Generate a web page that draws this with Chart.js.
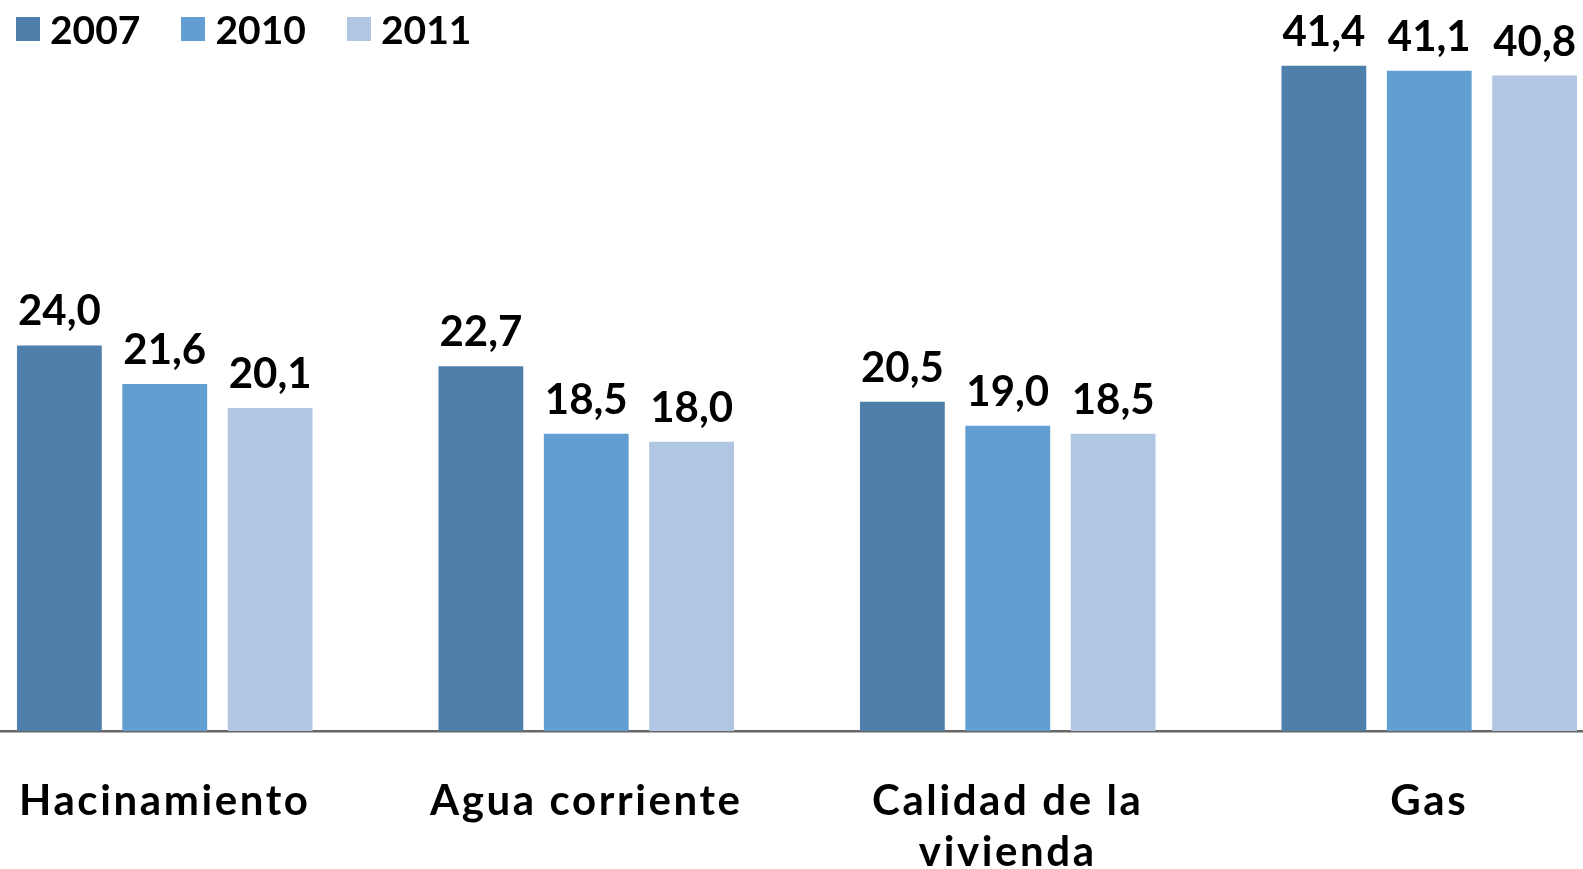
<!DOCTYPE html>
<html>
<head>
<meta charset="utf-8">
<script src="https://cdn.jsdelivr.net/npm/chart.js@4.4.1/dist/chart.umd.min.js"></script>
<style>
    html, body { margin: 0; padding: 0; background: #fff; overflow: hidden; width: 1583px; height: 869px; }
    #wrap { position: absolute; left: -46px; top: 0; width: 1686px; height: 869px; }
    #legend { position: absolute; left: 16px; top: 5px; display: flex; font-family: Lato, sans-serif; font-weight: bold; font-size: 39px; line-height: 48px; color: #000; }
    #legend .item { display: flex; align-items: center; margin-right: 41px; }
    #legend .box { width: 24px; height: 24px; margin-right: 10px; }
</style>
</head>
<body>
<div id="wrap"><canvas id="chart"></canvas></div>
<div id="legend"></div>
<script>
const categories = ['Hacinamiento', 'Agua corriente', ['Calidad de la', 'vivienda'], 'Gas'];
const years = ['2007', '2010', '2011'];
const values2007 = [24.0, 22.7, 20.5, 41.4];
const values2010 = [21.6, 18.5, 19.0, 41.1];
const values2011 = [20.1, 18.0, 18.5, 40.8];
const colors = ['#4f80ab', '#629ed2', '#b0c6e3'];

const FONT = 'Lato, sans-serif';

// espaciado de letras para las etiquetas del eje x (la fuente original es más ancha)
const tickSpacing = {
    id: 'tickSpacing',
    beforeDraw(chart) { chart.ctx.letterSpacing = '2.6px'; },
    beforeDatasetsDraw(chart) { chart.ctx.letterSpacing = '0px'; }
};

// etiquetas de valor sobre cada barra, con coma decimal
const valueLabels = {
    id: 'valueLabels',
    afterDatasetsDraw(chart) {
        const ctx = chart.ctx;
        ctx.save();
        ctx.letterSpacing = '0px';
        ctx.font = 'bold 42px ' + FONT;
        ctx.fillStyle = '#000';
        ctx.textAlign = 'center';
        ctx.textBaseline = 'alphabetic';
        chart.data.datasets.forEach((ds, i) => {
            chart.getDatasetMeta(i).data.forEach((bar, j) => {
                ctx.fillText(ds.data[j].toFixed(1).replace('.', ','), bar.x, bar.y - 20);
            });
        });
        ctx.restore();
    }
};

const legendEl = document.getElementById('legend');
years.forEach((y, i) => {
    const item = document.createElement('div');
    item.className = 'item';
    item.innerHTML = '<span class="box" style="background:' + colors[i] + '"></span>' + y;
    legendEl.appendChild(item);
});

new Chart(document.getElementById('chart').getContext('2d'), {
    type: 'bar',
    data: {
        labels: categories,
        datasets: [
            { label: years[0], data: values2007, backgroundColor: colors[0] },
            { label: years[1], data: values2010, backgroundColor: colors[1] },
            { label: years[2], data: values2011, backgroundColor: colors[2] }
        ]
    },
    options: {
        responsive: true,
        maintainAspectRatio: false,
        animation: false,
        layout: { padding: 0 },
        categoryPercentage: 0.75,
        barPercentage: 0.805,
        plugins: {
            legend: { display: false },
            tooltip: { enabled: false }
        },
        scales: {
            x: {
                grid: { display: false, drawTicks: false },
                border: { display: true, color: '#666', width: 2.5 },
                ticks: {
                    color: '#000',
                    padding: 45,
                    maxRotation: 0,
                    autoSkip: false,
                    font: { family: FONT, size: 42, weight: 'bold', lineHeight: 1.22 }
                },
                afterFit(scale) { scale.height = 138; }
            },
            y: {
                display: false,
                min: 0,
                max: 45.5
            }
        }
    },
    plugins: [tickSpacing, valueLabels]
});
</script>
</body>
</html>
